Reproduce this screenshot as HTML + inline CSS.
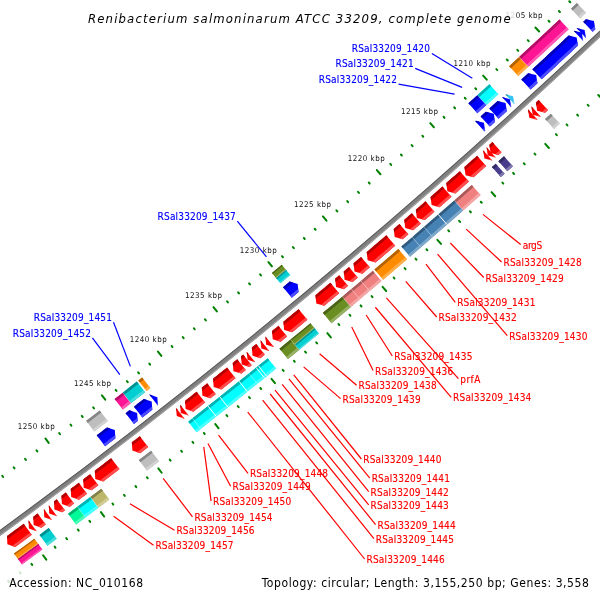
<!DOCTYPE html>
<html><head><meta charset="utf-8"><title>Renibacterium salmoninarum ATCC 33209, complete genome</title>
<style>html,body{margin:0;padding:0;background:#fff;}svg{display:block;will-change:transform;}</style></head>
<body><svg width="600" height="600" viewBox="0 0 600 600">
<rect width="600" height="600" fill="#fff"/>
<path d="M670.69,-37.43 A6182.57,6182.57 0 0 1 -65.4,577.03 L-62.51,581.11 A6187.57,6187.57 0 0 0 674.18,-33.86 Z" fill="#808080"/><path d="M670.69,-37.43 A6182.57,6182.57 0 0 1 -65.4,577.03 L-64.82,577.85 A6183.57,6183.57 0 0 0 671.39,-36.72 Z" fill="#5a5a5a"/><path d="M673.48,-34.57 A6186.57,6186.57 0 0 1 -63.08,580.29 L-62.51,581.11 A6187.57,6187.57 0 0 0 674.18,-33.86 Z" fill="#a6a6a6"/>
<polygon points="583.22,21.83 584.13,20.98 585.03,20.13 585.93,19.28 585.93,19.28 593.95,21.11 595.33,29.24 595.33,29.24 594.43,30.09 593.53,30.94 592.63,31.79" fill="#0000ff"/><polygon points="583.22,21.83 584.13,20.98 585.03,20.13 585.93,19.28 585.93,19.28 589.14,20.01 587.81,21.27 586.91,22.12 586.01,22.97 585.11,23.82" fill="#0000b2"/><polygon points="590.75,29.8 591.65,28.95 592.55,28.1 593.45,27.24 594.78,25.99 595.33,29.24 595.33,29.24 594.43,30.09 593.53,30.94 592.63,31.79" fill="#4c4cff"/>
<polygon points="576.57,28.1 576.57,28.1 576.57,28.1 576.57,28.1 584.6,29.95 585.96,38.07 585.96,38.07 585.96,38.07 585.96,38.07" fill="#0000ff"/><polygon points="576.57,28.1 576.57,28.1 576.57,28.1 576.57,28.1 579.78,28.84 578.45,30.09 578.45,30.09 578.45,30.09" fill="#0000b2"/><polygon points="584.08,36.08 584.08,36.08 584.08,36.08 585.41,34.82 585.96,38.07 585.96,38.07 585.96,38.07 585.96,38.07" fill="#4c4cff"/>
<polygon points="573.66,30.83 573.71,30.79 573.76,30.74 573.76,30.74 581.78,32.59 583.14,40.72 583.14,40.72 583.09,40.77 583.04,40.82" fill="#0000ff"/><polygon points="573.66,30.83 573.71,30.79 573.76,30.74 573.76,30.74 576.97,31.48 575.64,32.73 575.58,32.78 575.53,32.83" fill="#0000b2"/><polygon points="581.16,38.82 581.21,38.77 581.27,38.72 582.6,37.47 583.14,40.72 583.14,40.72 583.09,40.77 583.04,40.82" fill="#4c4cff"/>
<polygon points="532.36,69.28 534.28,67.51 536.19,65.74 538.11,63.97 540.02,62.2 541.94,60.43 543.85,58.65 545.76,56.88 547.67,55.1 549.59,53.33 551.5,51.55 553.41,49.77 555.32,48 557.22,46.22 559.13,44.44 561.04,42.66 562.94,40.88 564.85,39.09 566.75,37.31 568.66,35.53 568.66,35.53 576.68,37.39 578.03,45.52 578.03,45.52 576.12,47.31 574.21,49.1 572.3,50.88 570.39,52.67 568.48,54.45 566.57,56.24 564.65,58.02 562.74,59.8 560.83,61.58 558.91,63.36 557,65.14 555.08,66.92 553.16,68.7 551.25,70.48 549.33,72.25 547.41,74.03 545.49,75.8 543.57,77.58 541.65,79.35" fill="#0000ff"/><polygon points="532.36,69.28 534.28,67.51 536.19,65.74 538.11,63.97 540.02,62.2 541.94,60.43 543.85,58.65 545.76,56.88 547.67,55.1 549.59,53.33 551.5,51.55 553.41,49.77 555.32,48 557.22,46.22 559.13,44.44 561.04,42.66 562.94,40.88 564.85,39.09 566.75,37.31 568.66,35.53 568.66,35.53 571.87,36.27 570.53,37.53 568.63,39.31 566.72,41.09 564.81,42.88 562.91,44.66 561,46.44 559.09,48.22 557.18,50 555.27,51.78 553.36,53.56 551.45,55.33 549.54,57.11 547.63,58.89 545.71,60.66 543.8,62.44 541.88,64.21 539.97,65.98 538.05,67.75 536.13,69.52 534.22,71.29" fill="#0000b2"/><polygon points="539.79,77.34 541.71,75.56 543.63,73.79 545.55,72.02 547.47,70.24 549.38,68.47 551.3,66.69 553.22,64.91 555.13,63.13 557.05,61.36 558.96,59.58 560.87,57.8 562.79,56.01 564.7,54.23 566.61,52.45 568.52,50.67 570.43,48.88 572.34,47.1 574.25,45.31 576.15,43.52 577.49,42.27 578.03,45.52 578.03,45.52 576.12,47.31 574.21,49.1 572.3,50.88 570.39,52.67 568.48,54.45 566.57,56.24 564.65,58.02 562.74,59.8 560.83,61.58 558.91,63.36 557,65.14 555.08,66.92 553.16,68.7 551.25,70.48 549.33,72.25 547.41,74.03 545.49,75.8 543.57,77.58 541.65,79.35" fill="#4c4cff"/>
<polygon points="521.32,79.44 522.69,78.18 524.06,76.92 525.42,75.67 526.79,74.41 528.16,73.15 528.16,73.15 536.16,75.09 537.44,83.23 537.44,83.23 536.07,84.49 534.7,85.75 533.33,87.01 531.96,88.27 530.59,89.53" fill="#0000ff"/><polygon points="521.32,79.44 522.69,78.18 524.06,76.92 525.42,75.67 526.79,74.41 528.16,73.15 528.16,73.15 531.36,73.93 530.01,75.17 528.65,76.43 527.28,77.68 525.91,78.94 524.54,80.2 523.17,81.45" fill="#0000b2"/><polygon points="528.73,87.51 530.1,86.25 531.47,84.99 532.84,83.73 534.21,82.47 535.58,81.21 536.93,79.97 537.44,83.23 537.44,83.23 536.07,84.49 534.7,85.75 533.33,87.01 531.96,88.27 530.59,89.53" fill="#4c4cff"/>
<polygon points="505.19,94.19 505.19,94.19 505.19,94.19 505.19,94.19 513.08,96.26 514.42,104.31 514.42,104.31 514.42,104.31 514.42,104.31" fill="#33c4f2"/><polygon points="505.19,94.19 505.19,94.19 505.19,94.19 505.19,94.19 508.35,95.02 507.04,96.21 507.04,96.21 507.04,96.21" fill="#2489a9"/><polygon points="512.58,102.29 512.58,102.29 512.58,102.29 513.89,101.09 514.42,104.31 514.42,104.31 514.42,104.31 514.42,104.31" fill="#70d6f6"/>
<polygon points="502.03,97.07 502.03,97.07 502.03,97.07 502.03,97.07 509.91,99.15 511.25,107.2 511.25,107.2 511.25,107.2 511.25,107.2" fill="#0000ff"/><polygon points="502.03,97.07 502.03,97.07 502.03,97.07 502.03,97.07 505.18,97.9 503.87,99.1 503.87,99.1 503.87,99.1" fill="#0000b2"/><polygon points="509.4,105.18 509.4,105.18 509.4,105.18 510.72,103.98 511.25,107.2 511.25,107.2 511.25,107.2 511.25,107.2" fill="#4c4cff"/>
<polygon points="489.33,108.59 490.99,107.1 492.64,105.6 494.29,104.1 495.94,102.61 497.59,101.11 497.59,101.11 505.58,103.1 506.8,111.25 506.8,111.25 505.15,112.75 503.49,114.25 501.84,115.75 500.18,117.25 498.53,118.75" fill="#0000ff"/><polygon points="489.33,108.59 490.99,107.1 492.64,105.6 494.29,104.1 495.94,102.61 497.59,101.11 497.59,101.11 500.78,101.91 499.43,103.14 497.78,104.63 496.13,106.13 494.48,107.63 492.82,109.13 491.17,110.62" fill="#0000b2"/><polygon points="496.69,116.72 498.34,115.22 500,113.72 501.65,112.22 503.3,110.72 504.96,109.22 506.31,107.99 506.8,111.25 506.8,111.25 505.15,112.75 503.49,114.25 501.84,115.75 500.18,117.25 498.53,118.75" fill="#4c4cff"/>
<polygon points="480.64,116.44 481.94,115.27 483.24,114.1 484.54,112.93 485.84,111.75 485.84,111.75 493.82,113.77 495.02,121.92 495.02,121.92 493.72,123.09 492.42,124.27 491.12,125.44 489.82,126.62" fill="#0000ff"/><polygon points="480.64,116.44 481.94,115.27 483.24,114.1 484.54,112.93 485.84,111.75 485.84,111.75 489.03,112.56 487.67,113.79 486.37,114.96 485.08,116.13 483.78,117.31 482.48,118.48" fill="#0000b2"/><polygon points="487.98,124.58 489.28,123.41 490.58,122.23 491.88,121.06 493.19,119.88 494.54,118.66 495.02,121.92 495.02,121.92 493.72,123.09 492.42,124.27 491.12,125.44 489.82,126.62" fill="#4c4cff"/>
<polygon points="475.33,121.22 475.65,120.94 475.97,120.65 475.97,120.65 483.95,122.68 485.13,130.83 485.13,130.83 484.82,131.12 484.5,131.41" fill="#0000ff"/><polygon points="475.33,121.22 475.65,120.94 475.97,120.65 475.97,120.65 479.16,121.46 477.8,122.69 477.49,122.97 477.17,123.26" fill="#0000b2"/><polygon points="482.66,129.37 482.98,129.08 483.3,128.8 484.66,127.57 485.13,130.83 485.13,130.83 484.82,131.12 484.5,131.41" fill="#4c4cff"/>
<polygon points="283.06,287.14 284.41,286.02 285.75,284.91 287.09,283.8 288.43,282.69 289.77,281.58 289.77,281.58 297.67,283.92 298.52,292.12 298.52,292.12 297.18,293.23 295.83,294.35 294.49,295.46 293.14,296.58 291.8,297.69" fill="#0000ff"/><polygon points="283.06,287.14 284.41,286.02 285.75,284.91 287.09,283.8 288.43,282.69 289.77,281.58 289.77,281.58 292.93,282.52 291.52,283.68 290.18,284.8 288.84,285.91 287.5,287.02 286.15,288.13 284.81,289.25" fill="#0000b2"/><polygon points="290.05,295.58 291.4,294.47 292.74,293.35 294.09,292.24 295.43,291.12 296.77,290.01 298.18,288.84 298.52,292.12 298.52,292.12 297.18,293.23 295.83,294.35 294.49,295.46 293.14,296.58 291.8,297.69" fill="#4c4cff"/>
<polygon points="149.39,394.66 149.45,394.62 149.51,394.57 149.51,394.57 157.33,397.15 157.95,405.37 157.95,405.37 157.89,405.41 157.83,405.46" fill="#0000ff"/><polygon points="149.39,394.66 149.45,394.62 149.51,394.57 149.51,394.57 152.64,395.61 151.19,396.73 151.14,396.78 151.08,396.82" fill="#0000b2"/><polygon points="156.14,403.3 156.2,403.25 156.26,403.21 157.7,402.08 157.95,405.37 157.95,405.37 157.89,405.41 157.83,405.46" fill="#4c4cff"/>
<polygon points="133.96,406.69 135.61,405.4 137.27,404.12 138.92,402.83 140.57,401.55 142.23,400.26 143.88,398.97 143.88,398.97 151.7,401.56 152.3,409.77 152.3,409.77 150.65,411.06 148.99,412.35 147.33,413.64 145.68,414.93 144.02,416.22 142.36,417.51" fill="#0000ff"/><polygon points="133.96,406.69 135.61,405.4 137.27,404.12 138.92,402.83 140.57,401.55 142.23,400.26 143.88,398.97 143.88,398.97 147.01,400 145.56,401.13 143.91,402.42 142.26,403.71 140.6,404.99 138.95,406.28 137.29,407.57 135.64,408.85" fill="#0000b2"/><polygon points="140.68,415.35 142.34,414.06 144,412.77 145.65,411.48 147.31,410.19 148.96,408.9 150.62,407.61 152.06,406.49 152.3,409.77 152.3,409.77 150.65,411.06 148.99,412.35 147.33,413.64 145.68,414.93 144.02,416.22 142.36,417.51" fill="#4c4cff"/>
<polygon points="125.6,413.17 126.85,412.2 128.09,411.24 129.33,410.28 129.33,410.28 137.14,412.89 137.72,421.11 137.72,421.11 136.48,422.07 135.23,423.04 133.99,424" fill="#0000ff"/><polygon points="125.6,413.17 126.85,412.2 128.09,411.24 129.33,410.28 129.33,410.28 132.46,411.33 131.01,412.45 129.77,413.41 128.52,414.37 127.28,415.33" fill="#0000b2"/><polygon points="132.31,421.83 133.56,420.87 134.8,419.91 136.05,418.94 137.49,417.82 137.72,421.11 137.72,421.11 136.48,422.07 135.23,423.04 133.99,424" fill="#4c4cff"/>
<polygon points="96.73,435.37 98.45,434.06 100.17,432.74 101.89,431.42 103.61,430.11 105.33,428.79 107.05,427.47 107.05,427.47 114.85,430.11 115.39,438.34 115.39,438.34 113.67,439.66 111.95,440.98 110.23,442.3 108.5,443.62 106.78,444.94 105.05,446.26" fill="#0000ff"/><polygon points="96.73,435.37 98.45,434.06 100.17,432.74 101.89,431.42 103.61,430.11 105.33,428.79 107.05,427.47 107.05,427.47 110.17,428.53 108.72,429.64 107,430.96 105.28,432.28 103.56,433.6 101.84,434.92 100.12,436.23 98.4,437.55" fill="#0000b2"/><polygon points="103.39,444.08 105.11,442.76 106.84,441.44 108.56,440.12 110.28,438.8 112,437.48 113.73,436.16 115.18,435.05 115.39,438.34 115.39,438.34 113.67,439.66 111.95,440.98 110.23,442.3 108.5,443.62 106.78,444.94 105.05,446.26" fill="#4c4cff"/>
<polygon points="538.67,100.03 537.75,100.87 536.83,101.71 535.92,102.55 535.92,102.55 537.16,110.7 545.17,112.65 545.17,112.65 546.09,111.81 547.01,110.97 547.93,110.12" fill="#ff0000"/><polygon points="538.67,100.03 537.75,100.87 536.83,101.71 535.92,102.55 535.92,102.55 536.41,105.81 537.77,104.57 538.68,103.73 539.6,102.89 540.52,102.05" fill="#b20000"/><polygon points="546.08,108.1 545.16,108.95 544.24,109.79 543.32,110.63 541.97,111.87 545.17,112.65 545.17,112.65 546.09,111.81 547.01,110.97 547.93,110.12" fill="#ff4c4c"/>
<polygon points="531.58,106.52 531.53,106.57 531.47,106.62 531.47,106.62 532.7,114.77 540.72,116.73 540.72,116.73 540.77,116.68 540.82,116.63" fill="#ff0000"/><polygon points="531.58,106.52 531.53,106.57 531.47,106.62 531.47,106.62 531.97,109.88 533.32,108.64 533.37,108.59 533.43,108.54" fill="#b20000"/><polygon points="538.98,114.61 538.92,114.66 538.87,114.71 537.51,115.95 540.72,116.73 540.72,116.73 540.77,116.68 540.82,116.63" fill="#ff4c4c"/>
<polygon points="528.3,109.52 528.19,109.62 528.08,109.72 528.08,109.72 529.31,117.87 537.32,119.83 537.32,119.83 537.43,119.73 537.53,119.64" fill="#ff0000"/><polygon points="528.3,109.52 528.19,109.62 528.08,109.72 528.08,109.72 528.57,112.98 529.93,111.74 530.04,111.64 530.14,111.55" fill="#b20000"/><polygon points="535.69,117.61 535.58,117.71 535.47,117.81 534.12,119.05 537.32,119.83 537.32,119.83 537.43,119.73 537.53,119.64" fill="#ff4c4c"/>
<polygon points="492.36,142.09 491.37,142.98 490.37,143.88 489.38,144.77 489.38,144.77 490.53,152.94 498.53,154.96 498.53,154.96 499.53,154.07 500.53,153.17 501.52,152.27" fill="#ff0000"/><polygon points="492.36,142.09 491.37,142.98 490.37,143.88 489.38,144.77 489.38,144.77 489.84,148.04 491.21,146.81 492.2,145.91 493.2,145.02 494.2,144.12" fill="#b20000"/><polygon points="499.69,150.24 498.69,151.13 497.7,152.03 496.7,152.93 495.33,154.15 498.53,154.96 498.53,154.96 499.53,154.07 500.53,153.17 501.52,152.27" fill="#ff4c4c"/>
<polygon points="486.6,147.26 486.6,147.26 486.6,147.26 486.6,147.26 487.75,155.43 495.75,157.46 495.75,157.46 495.75,157.46 495.75,157.46" fill="#ff0000"/><polygon points="486.6,147.26 486.6,147.26 486.6,147.26 486.6,147.26 487.06,150.53 488.43,149.3 488.43,149.3 488.43,149.3" fill="#b20000"/><polygon points="493.92,155.42 493.92,155.42 493.92,155.42 492.55,156.65 495.75,157.46 495.75,157.46 495.75,157.46 495.75,157.46" fill="#ff4c4c"/>
<polygon points="483.18,150.33 483.18,150.33 483.18,150.33 483.18,150.33 484.43,158.4 492.32,160.53 492.32,160.53 492.32,160.53 492.32,160.53" fill="#ff0000"/><polygon points="483.18,150.33 483.18,150.33 483.18,150.33 483.18,150.33 483.68,153.55 485.01,152.37 485.01,152.37 485.01,152.37" fill="#b20000"/><polygon points="490.49,158.49 490.49,158.49 490.49,158.49 489.16,159.68 492.32,160.53 492.32,160.53 492.32,160.53 492.32,160.53" fill="#ff4c4c"/>
<polygon points="477.09,155.78 475.28,157.39 473.48,159 471.67,160.61 469.87,162.22 468.06,163.82 466.25,165.43 464.44,167.04 464.44,167.04 465.56,175.21 473.54,177.28 473.54,177.28 475.35,175.67 477.16,174.06 478.98,172.45 480.79,170.84 482.59,169.22 484.4,167.61 486.21,166" fill="#ff0000"/><polygon points="477.09,155.78 475.28,157.39 473.48,159 471.67,160.61 469.87,162.22 468.06,163.82 466.25,165.43 464.44,167.04 464.44,167.04 464.89,170.31 466.26,169.09 468.07,167.48 469.88,165.87 471.69,164.26 473.49,162.65 475.3,161.04 477.11,159.43 478.91,157.82" fill="#b20000"/><polygon points="484.39,163.95 482.58,165.56 480.77,167.18 478.96,168.79 477.15,170.4 475.34,172.01 473.53,173.62 471.72,175.23 470.35,176.45 473.54,177.28 473.54,177.28 475.35,175.67 477.16,174.06 478.98,172.45 480.79,170.84 482.59,169.22 484.4,167.61 486.21,166" fill="#ff4c4c"/>
<polygon points="459.83,171.13 458.14,172.63 456.45,174.13 454.75,175.63 453.06,177.12 451.37,178.62 449.67,180.11 447.98,181.61 446.28,183.1 446.28,183.1 447.36,191.28 455.34,193.38 455.34,193.38 457.04,191.88 458.74,190.39 460.44,188.89 462.13,187.39 463.83,185.89 465.53,184.39 467.22,182.89 468.92,181.38" fill="#ff0000"/><polygon points="459.83,171.13 458.14,172.63 456.45,174.13 454.75,175.63 453.06,177.12 451.37,178.62 449.67,180.11 447.98,181.61 446.28,183.1 446.28,183.1 446.72,186.37 448.1,185.16 449.79,183.66 451.49,182.17 453.18,180.67 454.88,179.18 456.57,177.68 458.26,176.18 459.95,174.68 461.65,173.18" fill="#b20000"/><polygon points="467.1,179.33 465.41,180.83 463.71,182.34 462.02,183.84 460.32,185.33 458.62,186.83 456.93,188.33 455.23,189.83 453.53,191.33 452.15,192.54 455.34,193.38 455.34,193.38 457.04,191.88 458.74,190.39 460.44,188.89 462.13,187.39 463.83,185.89 465.53,184.39 467.22,182.89 468.92,181.38" fill="#ff4c4c"/>
<polygon points="442.41,186.52 440.72,188.01 439.02,189.49 437.33,190.98 435.63,192.47 433.94,193.95 432.24,195.44 430.55,196.93 430.55,196.93 431.6,205.11 439.57,207.23 439.57,207.23 441.27,205.75 442.97,204.26 444.67,202.77 446.37,201.28 448.06,199.79 449.76,198.29 451.46,196.8" fill="#ff0000"/><polygon points="442.41,186.52 440.72,188.01 439.02,189.49 437.33,190.98 435.63,192.47 433.94,193.95 432.24,195.44 430.55,196.93 430.55,196.93 430.97,200.2 432.35,198.99 434.05,197.5 435.74,196.02 437.44,194.53 439.14,193.04 440.83,191.55 442.52,190.06 444.22,188.57" fill="#b20000"/><polygon points="449.65,194.75 447.95,196.24 446.26,197.73 444.56,199.22 442.86,200.71 441.16,202.2 439.46,203.68 437.77,205.17 436.38,206.38 439.57,207.23 439.57,207.23 441.27,205.75 442.97,204.26 444.67,202.77 446.37,201.28 448.06,199.79 449.76,198.29 451.46,196.8" fill="#ff4c4c"/>
<polygon points="425.47,201.36 423.87,202.76 422.26,204.16 420.66,205.56 419.05,206.96 417.45,208.36 415.84,209.75 415.84,209.75 416.87,217.94 424.84,220.09 424.84,220.09 426.44,218.69 428.05,217.29 429.66,215.89 431.27,214.49 432.88,213.09 434.48,211.68" fill="#ff0000"/><polygon points="425.47,201.36 423.87,202.76 422.26,204.16 420.66,205.56 419.05,206.96 417.45,208.36 415.84,209.75 415.84,209.75 416.26,213.03 417.64,211.82 419.25,210.42 420.85,209.03 422.46,207.63 424.06,206.23 425.67,204.83 427.27,203.43" fill="#b20000"/><polygon points="432.68,209.62 431.07,211.02 429.47,212.42 427.86,213.82 426.25,215.22 424.65,216.62 423.04,218.02 421.65,219.23 424.84,220.09 424.84,220.09 426.44,218.69 428.05,217.29 429.66,215.89 431.27,214.49 432.88,213.09 434.48,211.68" fill="#ff4c4c"/>
<polygon points="411.84,213.24 410.32,214.55 408.8,215.87 407.29,217.18 405.77,218.5 404.25,219.81 404.25,219.81 405.25,228 413.21,230.17 413.21,230.17 414.74,228.85 416.26,227.54 417.78,226.22 419.3,224.9 420.82,223.58" fill="#ff0000"/><polygon points="411.84,213.24 410.32,214.55 408.8,215.87 407.29,217.18 405.77,218.5 404.25,219.81 404.25,219.81 404.65,223.09 406.04,221.88 407.56,220.57 409.08,219.25 410.6,217.94 412.12,216.62 413.63,215.3" fill="#b20000"/><polygon points="419.02,221.51 417.5,222.83 415.98,224.15 414.46,225.47 412.94,226.78 411.42,228.1 410.03,229.3 413.21,230.17 413.21,230.17 414.74,228.85 416.26,227.54 417.78,226.22 419.3,224.9 420.82,223.58" fill="#ff4c4c"/>
<polygon points="399.47,223.94 398.03,225.18 396.6,226.43 395.16,227.67 393.72,228.91 393.72,228.91 394.7,237.1 402.66,239.29 402.66,239.29 404.1,238.04 405.54,236.8 406.99,235.55 408.43,234.31" fill="#ff0000"/><polygon points="399.47,223.94 398.03,225.18 396.6,226.43 395.16,227.67 393.72,228.91 393.72,228.91 394.11,232.18 395.5,230.98 396.94,229.74 398.38,228.5 399.82,227.26 401.26,226.01" fill="#b20000"/><polygon points="406.64,232.24 405.2,233.48 403.75,234.72 402.31,235.97 400.87,237.21 399.48,238.41 402.66,239.29 402.66,239.29 404.1,238.04 405.54,236.8 406.99,235.55 408.43,234.31" fill="#ff4c4c"/>
<polygon points="386.32,235.27 384.36,236.95 382.4,238.63 380.44,240.31 378.48,241.99 376.51,243.67 374.55,245.35 372.59,247.03 370.62,248.7 368.66,250.38 366.69,252.05 366.69,252.05 367.63,260.25 375.57,262.48 375.57,262.48 377.54,260.8 379.51,259.13 381.48,257.45 383.45,255.76 385.42,254.08 387.38,252.4 389.35,250.72 391.32,249.03 393.28,247.35 395.24,245.66" fill="#ff0000"/><polygon points="386.32,235.27 384.36,236.95 382.4,238.63 380.44,240.31 378.48,241.99 376.51,243.67 374.55,245.35 372.59,247.03 370.62,248.7 368.66,250.38 366.69,252.05 366.69,252.05 367.07,255.33 368.47,254.14 370.44,252.46 372.4,250.79 374.37,249.11 376.33,247.43 378.3,245.75 380.26,244.07 382.22,242.39 384.18,240.71 386.14,239.03 388.1,237.35" fill="#b20000"/><polygon points="393.46,243.58 391.5,245.27 389.53,246.95 387.57,248.64 385.6,250.32 383.64,252 381.67,253.68 379.7,255.36 377.74,257.04 375.77,258.72 373.8,260.4 372.4,261.59 375.57,262.48 375.57,262.48 377.54,260.8 379.51,259.13 381.48,257.45 383.45,255.76 385.42,254.08 387.38,252.4 389.35,250.72 391.32,249.03 393.28,247.35 395.24,245.66" fill="#ff4c4c"/>
<polygon points="361.01,256.89 359.52,258.15 358.03,259.41 356.55,260.67 355.06,261.93 353.57,263.2 353.57,263.2 354.49,271.39 362.42,273.65 362.42,273.65 363.91,272.39 365.41,271.12 366.9,269.86 368.39,268.59 369.88,267.33" fill="#ff0000"/><polygon points="361.01,256.89 359.52,258.15 358.03,259.41 356.55,260.67 355.06,261.93 353.57,263.2 353.57,263.2 353.94,266.47 355.34,265.29 356.83,264.02 358.32,262.76 359.81,261.5 361.3,260.24 362.78,258.97" fill="#b20000"/><polygon points="368.1,265.24 366.61,266.5 365.12,267.77 363.63,269.03 362.14,270.3 360.65,271.56 359.25,272.75 362.42,273.65 362.42,273.65 363.91,272.39 365.41,271.12 366.9,269.86 368.39,268.59 369.88,267.33" fill="#ff4c4c"/>
<polygon points="348.97,267.09 347.65,268.2 346.34,269.31 345.02,270.42 343.71,271.53 343.71,271.53 344.61,279.73 352.54,282 352.54,282 353.86,280.89 355.17,279.78 356.49,278.66 357.81,277.55" fill="#ff0000"/><polygon points="348.97,267.09 347.65,268.2 346.34,269.31 345.02,270.42 343.71,271.53 343.71,271.53 344.07,274.81 345.47,273.62 346.79,272.51 348.11,271.4 349.42,270.29 350.74,269.18" fill="#b20000"/><polygon points="356.04,275.46 354.73,276.57 353.41,277.68 352.09,278.8 350.77,279.91 349.36,281.09 352.54,282 352.54,282 353.86,280.89 355.17,279.78 356.49,278.66 357.81,277.55" fill="#ff4c4c"/>
<polygon points="339.21,275.32 337.85,276.46 336.5,277.6 335.14,278.73 335.14,278.73 336.03,286.93 343.96,289.22 343.96,289.22 345.31,288.08 346.67,286.94 348.03,285.8" fill="#ff0000"/><polygon points="339.21,275.32 337.85,276.46 336.5,277.6 335.14,278.73 335.14,278.73 335.5,282.01 336.91,280.83 338.26,279.69 339.62,278.55 340.97,277.41" fill="#b20000"/><polygon points="346.26,283.7 344.91,284.85 343.55,285.99 342.19,287.13 340.79,288.31 343.96,289.22 343.96,289.22 345.31,288.08 346.67,286.94 348.03,285.8" fill="#ff4c4c"/>
<polygon points="330.42,282.7 328.55,284.27 326.68,285.83 324.81,287.4 322.94,288.96 321.07,290.53 319.19,292.09 317.32,293.65 315.45,295.21 315.45,295.21 316.3,303.42 324.22,305.74 324.22,305.74 326.09,304.17 327.97,302.61 329.85,301.04 331.72,299.47 333.6,297.91 335.47,296.34 337.35,294.77 339.22,293.2" fill="#ff0000"/><polygon points="330.42,282.7 328.55,284.27 326.68,285.83 324.81,287.4 322.94,288.96 321.07,290.53 319.19,292.09 317.32,293.65 315.45,295.21 315.45,295.21 315.79,298.49 317.2,297.32 319.08,295.75 320.95,294.19 322.82,292.63 324.69,291.06 326.57,289.5 328.44,287.93 330.31,286.37 332.18,284.8" fill="#b20000"/><polygon points="337.46,291.1 335.59,292.67 333.71,294.24 331.84,295.8 329.97,297.37 328.09,298.94 326.21,300.5 324.34,302.07 322.46,303.63 321.05,304.81 324.22,305.74 324.22,305.74 326.09,304.17 327.97,302.61 329.85,301.04 331.72,299.47 333.6,297.91 335.47,296.34 337.35,294.77 339.22,293.2" fill="#ff4c4c"/>
<polygon points="298.67,309.14 296.76,310.72 294.85,312.29 292.94,313.87 291.03,315.44 289.12,317.02 287.21,318.59 285.3,320.16 283.39,321.73 283.39,321.73 284.19,329.94 292.09,332.32 292.09,332.32 294,330.74 295.92,329.17 297.83,327.59 299.75,326.01 301.66,324.44 303.57,322.86 305.49,321.28 307.4,319.7" fill="#ff0000"/><polygon points="298.67,309.14 296.76,310.72 294.85,312.29 292.94,313.87 291.03,315.44 289.12,317.02 287.21,318.59 285.3,320.16 283.39,321.73 283.39,321.73 283.71,325.02 285.13,323.85 287.04,322.28 288.95,320.7 290.87,319.13 292.78,317.56 294.69,315.98 296.6,314.41 298.51,312.83 300.41,311.25" fill="#b20000"/><polygon points="305.65,317.58 303.74,319.16 301.83,320.74 299.92,322.32 298.01,323.9 296.09,325.48 294.18,327.05 292.26,328.63 290.35,330.2 288.93,331.37 292.09,332.32 292.09,332.32 294,330.74 295.92,329.17 297.83,327.59 299.75,326.01 301.66,324.44 303.57,322.86 305.49,321.28 307.4,319.7" fill="#ff4c4c"/>
<polygon points="278.4,325.83 276.79,327.15 275.18,328.47 273.57,329.78 271.96,331.1 271.96,331.1 272.74,339.31 280.63,341.71 280.63,341.71 282.25,340.39 283.86,339.07 285.47,337.74 287.09,336.42" fill="#ff0000"/><polygon points="278.4,325.83 276.79,327.15 275.18,328.47 273.57,329.78 271.96,331.1 271.96,331.1 272.27,334.38 273.7,333.22 275.31,331.9 276.92,330.59 278.53,329.27 280.14,327.95" fill="#b20000"/><polygon points="285.35,334.3 283.74,335.63 282.13,336.95 280.51,338.27 278.9,339.59 277.48,340.75 280.63,341.71 280.63,341.71 282.25,340.39 283.86,339.07 285.47,337.74 287.09,336.42" fill="#ff4c4c"/>
<polygon points="265.41,336.45 265.41,336.45 265.41,336.45 265.41,336.45 266.17,344.67 274.06,347.07 274.06,347.07 274.06,347.07 274.06,347.07" fill="#ff0000"/><polygon points="265.41,336.45 265.41,336.45 265.41,336.45 265.41,336.45 265.71,339.74 267.14,338.58 267.14,338.58 267.14,338.58" fill="#b20000"/><polygon points="272.33,344.95 272.33,344.95 272.33,344.95 270.91,346.11 274.06,347.07 274.06,347.07 274.06,347.07 274.06,347.07" fill="#ff4c4c"/>
<polygon points="260.62,340.35 260.62,340.35 260.62,340.35 260.62,340.35 261.38,348.56 269.27,350.98 269.27,350.98 269.27,350.98 269.27,350.98" fill="#ff0000"/><polygon points="260.62,340.35 260.62,340.35 260.62,340.35 260.62,340.35 260.93,343.64 262.35,342.48 262.35,342.48 262.35,342.48" fill="#b20000"/><polygon points="267.54,348.85 267.54,348.85 267.54,348.85 266.11,350.01 269.27,350.98 269.27,350.98 269.27,350.98 269.27,350.98" fill="#ff4c4c"/>
<polygon points="256.17,343.97 254.72,345.15 253.27,346.32 251.82,347.5 251.82,347.5 252.57,355.71 260.45,358.14 260.45,358.14 261.9,356.96 263.36,355.78 264.81,354.6" fill="#ff0000"/><polygon points="256.17,343.97 254.72,345.15 253.27,346.32 251.82,347.5 251.82,347.5 252.12,350.78 253.55,349.62 255,348.45 256.45,347.27 257.9,346.1" fill="#b20000"/><polygon points="263.08,352.48 261.63,353.66 260.18,354.83 258.73,356.01 257.3,357.17 260.45,358.14 260.45,358.14 261.9,356.96 263.36,355.78 264.81,354.6" fill="#ff4c4c"/>
<polygon points="246.7,351.65 246.7,351.65 246.7,351.65 246.7,351.65 247.54,359.77 255.31,362.3 255.31,362.3 255.31,362.3 255.31,362.3" fill="#ff0000"/><polygon points="246.7,351.65 246.7,351.65 246.7,351.65 246.7,351.65 247.04,354.9 248.42,353.78 248.42,353.78 248.42,353.78" fill="#b20000"/><polygon points="253.59,360.17 253.59,360.17 253.59,360.17 252.2,361.29 255.31,362.3 255.31,362.3 255.31,362.3 255.31,362.3" fill="#ff4c4c"/>
<polygon points="243.13,354.54 242.07,355.39 241,356.25 241,356.25 241.73,364.46 249.61,366.91 249.61,366.91 250.67,366.05 251.73,365.19" fill="#ff0000"/><polygon points="243.13,354.54 242.07,355.39 241,356.25 241,356.25 241.3,359.53 242.73,358.38 243.79,357.52 244.85,356.67" fill="#b20000"/><polygon points="250.01,363.06 248.95,363.92 247.89,364.78 246.46,365.93 249.61,366.91 249.61,366.91 250.67,366.05 251.73,365.19" fill="#ff4c4c"/>
<polygon points="237.21,359.31 236.09,360.21 234.97,361.11 233.86,362.01 232.74,362.91 232.74,362.91 233.45,371.13 241.32,373.58 241.32,373.58 242.44,372.68 243.56,371.78 244.68,370.88 245.8,369.98" fill="#ff0000"/><polygon points="237.21,359.31 236.09,360.21 234.97,361.11 233.86,362.01 232.74,362.91 232.74,362.91 233.02,366.19 234.45,365.04 235.57,364.14 236.69,363.24 237.81,362.34 238.93,361.44" fill="#b20000"/><polygon points="244.08,367.84 242.96,368.75 241.85,369.65 240.73,370.55 239.61,371.45 238.17,372.6 241.32,373.58 241.32,373.58 242.44,372.68 243.56,371.78 244.68,370.88 245.8,369.98" fill="#ff4c4c"/>
<polygon points="227.03,367.49 225.28,368.89 223.53,370.29 221.78,371.7 220.03,373.1 218.28,374.5 216.53,375.9 214.78,377.29 213.03,378.69 213.03,378.69 213.7,386.91 221.57,389.4 221.57,389.4 223.33,388 225.08,386.6 226.84,385.2 228.59,383.79 230.35,382.39 232.1,380.99 233.85,379.58 235.61,378.18" fill="#ff0000"/><polygon points="227.03,367.49 225.28,368.89 223.53,370.29 221.78,371.7 220.03,373.1 218.28,374.5 216.53,375.9 214.78,377.29 213.03,378.69 213.03,378.69 213.3,381.98 214.74,380.83 216.49,379.44 218.24,378.04 219.99,376.64 221.75,375.24 223.5,373.83 225.25,372.43 227,371.03 228.75,369.63" fill="#b20000"/><polygon points="233.89,376.04 232.14,377.44 230.39,378.85 228.63,380.25 226.88,381.65 225.13,383.06 223.37,384.46 221.62,385.86 219.86,387.26 218.42,388.41 221.57,389.4 221.57,389.4 223.33,388 225.08,386.6 226.84,385.2 228.59,383.79 230.35,382.39 232.1,380.99 233.85,379.58 235.61,378.18" fill="#ff4c4c"/>
<polygon points="207.19,383.34 205.85,384.41 204.5,385.48 203.15,386.55 201.8,387.62 201.8,387.62 202.46,395.85 210.32,398.35 210.32,398.35 211.67,397.28 213.02,396.21 214.37,395.13 215.72,394.06" fill="#ff0000"/><polygon points="207.19,383.34 205.85,384.41 204.5,385.48 203.15,386.55 201.8,387.62 201.8,387.62 202.07,390.91 203.5,389.77 204.85,388.7 206.2,387.63 207.55,386.56 208.9,385.48" fill="#b20000"/><polygon points="214.02,391.92 212.67,392.99 211.32,394.06 209.97,395.14 208.61,396.21 207.17,397.35 210.32,398.35 210.32,398.35 211.67,397.28 213.02,396.21 214.37,395.13 215.72,394.06" fill="#ff4c4c"/>
<polygon points="196.63,391.72 194.97,393.03 193.32,394.34 191.66,395.65 190.01,396.96 188.35,398.27 186.69,399.58 185.03,400.88 185.03,400.88 185.66,409.11 193.51,411.64 193.51,411.64 195.18,410.33 196.84,409.02 198.5,407.71 200.16,406.4 201.82,405.09 203.48,403.78 205.14,402.46" fill="#ff0000"/><polygon points="196.63,391.72 194.97,393.03 193.32,394.34 191.66,395.65 190.01,396.96 188.35,398.27 186.69,399.58 185.03,400.88 185.03,400.88 185.29,404.17 186.73,403.04 188.39,401.73 190.05,400.42 191.7,399.11 193.36,397.8 195.02,396.49 196.68,395.18 198.33,393.87" fill="#b20000"/><polygon points="203.43,400.32 201.78,401.63 200.12,402.94 198.46,404.25 196.8,405.56 195.14,406.87 193.48,408.18 191.82,409.49 190.37,410.63 193.51,411.64 193.51,411.64 195.18,410.33 196.84,409.02 198.5,407.71 200.16,406.4 201.82,405.09 203.48,403.78 205.14,402.46" fill="#ff4c4c"/>
<polygon points="180.19,404.7 180.19,404.7 180.19,404.7 180.19,404.7 180.81,412.92 188.66,415.47 188.66,415.47 188.66,415.47 188.66,415.47" fill="#ff0000"/><polygon points="180.19,404.7 180.19,404.7 180.19,404.7 180.19,404.7 180.44,407.99 181.88,406.85 181.88,406.85 181.88,406.85" fill="#b20000"/><polygon points="186.96,413.32 186.96,413.32 186.96,413.32 185.52,414.45 188.66,415.47 188.66,415.47 188.66,415.47 188.66,415.47" fill="#ff4c4c"/>
<polygon points="176.13,407.89 176.13,407.89 176.13,407.89 176.13,407.89 176.74,416.12 184.59,418.67 184.59,418.67 184.59,418.67 184.59,418.67" fill="#ff0000"/><polygon points="176.13,407.89 176.13,407.89 176.13,407.89 176.13,407.89 176.37,411.18 177.82,410.05 177.82,410.05 177.82,410.05" fill="#b20000"/><polygon points="182.89,416.51 182.89,416.51 182.89,416.51 181.45,417.65 184.59,418.67 184.59,418.67 184.59,418.67 184.59,418.67" fill="#ff4c4c"/>
<polygon points="139.8,436.2 138.21,437.42 136.62,438.65 135.03,439.88 133.44,441.11 131.85,442.33 131.85,442.33 132.39,450.56 140.21,453.18 140.21,453.18 141.8,451.95 143.4,450.73 144.99,449.5 146.59,448.27 148.18,447.03" fill="#ff0000"/><polygon points="139.8,436.2 138.21,437.42 136.62,438.65 135.03,439.88 133.44,441.11 131.85,442.33 131.85,442.33 132.07,445.62 133.52,444.5 135.11,443.28 136.7,442.05 138.29,440.82 139.88,439.59 141.47,438.36" fill="#b20000"/><polygon points="146.5,444.87 144.91,446.1 143.32,447.33 141.72,448.56 140.13,449.79 138.54,451.01 137.08,452.14 140.21,453.18 140.21,453.18 141.8,451.95 143.4,450.73 144.99,449.5 146.59,448.27 148.18,447.03" fill="#ff4c4c"/>
<polygon points="111.13,458.23 109.32,459.61 107.51,460.99 105.7,462.37 103.88,463.76 102.07,465.14 100.25,466.52 98.44,467.9 96.62,469.27 94.81,470.65 94.81,470.65 95.29,478.89 103.09,481.57 103.09,481.57 104.91,480.19 106.73,478.8 108.55,477.42 110.36,476.04 112.18,474.66 114,473.27 115.82,471.89 117.63,470.5 119.45,469.11" fill="#ff0000"/><polygon points="111.13,458.23 109.32,459.61 107.51,460.99 105.7,462.37 103.88,463.76 102.07,465.14 100.25,466.52 98.44,467.9 96.62,469.27 94.81,470.65 94.81,470.65 95,473.95 96.46,472.84 98.28,471.46 100.1,470.08 101.91,468.7 103.73,467.32 105.54,465.94 107.36,464.55 109.17,463.17 110.98,461.79 112.8,460.4" fill="#b20000"/><polygon points="117.79,466.94 115.97,468.32 114.15,469.71 112.34,471.09 110.52,472.48 108.71,473.86 106.89,475.24 105.07,476.62 103.25,478 101.43,479.38 99.97,480.5 103.09,481.57 103.09,481.57 104.91,480.19 106.73,478.8 108.55,477.42 110.36,476.04 112.18,474.66 114,473.27 115.82,471.89 117.63,470.5 119.45,469.11" fill="#ff4c4c"/>
<polygon points="90.12,474.21 88.75,475.24 87.37,476.28 86,477.32 84.63,478.36 83.25,479.4 83.25,479.4 83.71,487.63 91.51,490.33 91.51,490.33 92.89,489.29 94.26,488.25 95.64,487.21 97.01,486.17 98.39,485.13" fill="#ff0000"/><polygon points="90.12,474.21 88.75,475.24 87.37,476.28 86,477.32 84.63,478.36 83.25,479.4 83.25,479.4 83.44,482.69 84.9,481.58 86.28,480.55 87.65,479.51 89.03,478.47 90.4,477.43 91.77,476.39" fill="#b20000"/><polygon points="96.74,482.94 95.36,483.98 93.99,485.03 92.61,486.07 91.23,487.1 89.86,488.14 88.39,489.25 91.51,490.33 91.51,490.33 92.89,489.29 94.26,488.25 95.64,487.21 97.01,486.17 98.39,485.13" fill="#ff4c4c"/>
<polygon points="78.79,482.77 77.18,483.98 75.58,485.18 73.97,486.39 72.37,487.6 70.76,488.8 70.76,488.8 71.2,497.04 78.99,499.76 78.99,499.76 80.6,498.55 82.21,497.34 83.82,496.13 85.42,494.92 87.03,493.71" fill="#ff0000"/><polygon points="78.79,482.77 77.18,483.98 75.58,485.18 73.97,486.39 72.37,487.6 70.76,488.8 70.76,488.8 70.94,492.1 72.41,490.99 74.01,489.79 75.62,488.58 77.23,487.37 78.83,486.16 80.44,484.95" fill="#b20000"/><polygon points="85.38,491.52 83.78,492.73 82.17,493.94 80.56,495.15 78.95,496.36 77.34,497.57 75.87,498.67 78.99,499.76 78.99,499.76 80.6,498.55 82.21,497.34 83.82,496.13 85.42,494.92 87.03,493.71" fill="#ff4c4c"/>
<polygon points="65.83,492.51 64.37,493.6 62.92,494.68 61.46,495.77 61.46,495.77 61.88,504.01 69.67,506.74 69.67,506.74 71.13,505.65 72.59,504.56 74.04,503.47" fill="#ff0000"/><polygon points="65.83,492.51 64.37,493.6 62.92,494.68 61.46,495.77 61.46,495.77 61.63,499.07 63.1,497.97 64.56,496.88 66.01,495.79 67.47,494.7" fill="#b20000"/><polygon points="72.4,501.28 70.94,502.37 69.49,503.46 68.03,504.55 66.55,505.65 69.67,506.74 69.67,506.74 71.13,505.65 72.59,504.56 74.04,503.47" fill="#ff4c4c"/>
<polygon points="56.75,499.29 55.83,499.98 54.91,500.67 53.99,501.35 53.99,501.35 54.4,509.59 62.18,512.34 62.18,512.34 63.1,511.65 64.03,510.96 64.95,510.27" fill="#ff0000"/><polygon points="56.75,499.29 55.83,499.98 54.91,500.67 53.99,501.35 53.99,501.35 54.16,504.65 55.63,503.55 56.55,502.86 57.47,502.18 58.39,501.49" fill="#b20000"/><polygon points="63.31,508.08 62.39,508.76 61.46,509.45 60.54,510.14 59.07,511.24 62.18,512.34 62.18,512.34 63.1,511.65 64.03,510.96 64.95,510.27" fill="#ff4c4c"/>
<polygon points="48.81,505.21 48.81,505.21 48.81,505.21 48.81,505.21 49.21,513.45 56.99,516.2 56.99,516.2 56.99,516.2 56.99,516.2" fill="#ff0000"/><polygon points="48.81,505.21 48.81,505.21 48.81,505.21 48.81,505.21 48.98,508.51 50.45,507.41 50.45,507.41 50.45,507.41" fill="#b20000"/><polygon points="55.36,514 55.36,514 55.36,514 53.88,515.1 56.99,516.2 56.99,516.2 56.99,516.2 56.99,516.2" fill="#ff4c4c"/>
<polygon points="43.86,508.89 43.86,508.89 43.86,508.89 43.86,508.89 44.26,517.13 52.03,519.89 52.03,519.89 52.03,519.89 52.03,519.89" fill="#ff0000"/><polygon points="43.86,508.89 43.86,508.89 43.86,508.89 43.86,508.89 44.02,512.19 45.5,511.09 45.5,511.09 45.5,511.09" fill="#b20000"/><polygon points="50.4,517.69 50.4,517.69 50.4,517.69 48.92,518.79 52.03,519.89 52.03,519.89 52.03,519.89 52.03,519.89" fill="#ff4c4c"/>
<polygon points="37.64,513.51 36.18,514.59 34.72,515.67 33.26,516.75 33.26,516.75 33.63,524.99 41.4,527.77 41.4,527.77 42.87,526.68 44.33,525.6 45.79,524.52" fill="#ff0000"/><polygon points="37.64,513.51 36.18,514.59 34.72,515.67 33.26,516.75 33.26,516.75 33.41,520.04 34.89,518.95 36.35,517.87 37.81,516.79 39.27,515.71" fill="#b20000"/><polygon points="44.16,522.31 42.7,523.4 41.24,524.48 39.77,525.56 38.29,526.66 41.4,527.77 41.4,527.77 42.87,526.68 44.33,525.6 45.79,524.52" fill="#ff4c4c"/>
<polygon points="28.53,520.24 28.53,520.24 28.53,520.24 28.53,520.24 28.89,528.48 36.66,531.27 36.66,531.27 36.66,531.27 36.66,531.27" fill="#ff0000"/><polygon points="28.53,520.24 28.53,520.24 28.53,520.24 28.53,520.24 28.67,523.54 30.15,522.45 30.15,522.45 30.15,522.45" fill="#b20000"/><polygon points="35.03,529.06 35.03,529.06 35.03,529.06 33.55,530.15 36.66,531.27 36.66,531.27 36.66,531.27 36.66,531.27" fill="#ff4c4c"/>
<polygon points="23.68,523.82 21.83,525.18 19.98,526.54 18.13,527.9 16.28,529.26 14.43,530.61 12.58,531.97 10.72,533.33 8.87,534.68 7.02,536.04 7.02,536.04 7.35,544.28 15.1,547.1 15.1,547.1 16.96,545.74 18.82,544.38 20.67,543.02 22.53,541.66 24.38,540.3 26.24,538.94 28.09,537.58 29.95,536.21 31.8,534.85" fill="#ff0000"/><polygon points="23.68,523.82 21.83,525.18 19.98,526.54 18.13,527.9 16.28,529.26 14.43,530.61 12.58,531.97 10.72,533.33 8.87,534.68 7.02,536.04 7.02,536.04 7.15,539.34 8.64,538.25 10.49,536.9 12.34,535.54 14.2,534.18 16.05,532.82 17.9,531.47 19.75,530.11 21.6,528.75 23.45,527.39 25.3,526.02" fill="#b20000"/><polygon points="30.17,532.64 28.32,534.01 26.47,535.37 24.62,536.73 22.76,538.09 20.91,539.45 19.05,540.81 17.2,542.17 15.34,543.53 13.49,544.89 12,545.97 15.1,547.1 15.1,547.1 16.96,545.74 18.82,544.38 20.67,543.02 22.53,541.66 24.38,540.3 26.24,538.94 28.09,537.58 29.95,536.21 31.8,534.85" fill="#ff4c4c"/>
<path d="M576.88,3.06 A6146.77,6146.77 0 0 1 570.98,8.64 L580.17,18.38 A6160.17,6160.17 0 0 0 586.09,12.79 Z" fill="#bebebe"/><path d="M576.88,3.06 A6146.77,6146.77 0 0 1 570.98,8.64 L572.81,10.59 A6149.45,6149.45 0 0 0 578.72,5.01 Z" fill="#858585"/><path d="M584.24,10.85 A6157.49,6157.49 0 0 1 578.33,16.43 L580.17,18.38 A6160.17,6160.17 0 0 0 586.09,12.79 Z" fill="#d2d2d2"/>
<path d="M559.46,19.47 A6146.77,6146.77 0 0 1 519.11,57.01 L528.19,66.87 A6160.17,6160.17 0 0 0 568.63,29.24 Z" fill="#ff1493"/><path d="M559.46,19.47 A6146.77,6146.77 0 0 1 519.11,57.01 L520.92,58.98 A6149.45,6149.45 0 0 0 561.3,21.42 Z" fill="#b20e67"/><path d="M566.8,27.29 A6157.49,6157.49 0 0 1 526.37,64.9 L528.19,66.87 A6160.17,6160.17 0 0 0 568.63,29.24 Z" fill="#ff5ab3"/>
<path d="M519.11,57.01 A6146.77,6146.77 0 0 1 509.15,66.17 L518.21,76.05 A6160.17,6160.17 0 0 0 528.19,66.87 Z" fill="#ff8c00"/><path d="M519.11,57.01 A6146.77,6146.77 0 0 1 509.15,66.17 L510.96,68.15 A6149.45,6149.45 0 0 0 520.92,58.98 Z" fill="#b26200"/><path d="M526.37,64.9 A6157.49,6157.49 0 0 1 516.4,74.07 L518.21,76.05 A6160.17,6160.17 0 0 0 528.19,66.87 Z" fill="#ffae4c"/>
<path d="M489.38,84.24 A6146.77,6146.77 0 0 1 477.36,95.15 L486.35,105.09 A6160.17,6160.17 0 0 0 498.4,94.15 Z" fill="#00ffff"/><path d="M489.38,84.24 A6146.77,6146.77 0 0 1 477.36,95.15 L479.16,97.14 A6149.45,6149.45 0 0 0 491.19,86.22 Z" fill="#00b2b2"/><path d="M496.6,92.17 A6157.49,6157.49 0 0 1 484.55,103.1 L486.35,105.09 A6160.17,6160.17 0 0 0 498.4,94.15 Z" fill="#4cffff"/>
<path d="M477.36,95.15 A6146.77,6146.77 0 0 1 468.38,103.27 L477.35,113.22 A6160.17,6160.17 0 0 0 486.35,105.09 Z" fill="#0000ff"/><path d="M477.36,95.15 A6146.77,6146.77 0 0 1 468.38,103.27 L470.17,105.26 A6149.45,6149.45 0 0 0 479.16,97.14 Z" fill="#0000b2"/><path d="M484.55,103.1 A6157.49,6157.49 0 0 1 475.55,111.23 L477.35,113.22 A6160.17,6160.17 0 0 0 486.35,105.09 Z" fill="#4c4cff"/>
<path d="M281.78,264.81 A6146.77,6146.77 0 0 1 271.92,273 L276.19,278.16 A6153.47,6153.47 0 0 0 286.07,269.96 Z" fill="#6b8e23"/><path d="M281.78,264.81 A6146.77,6146.77 0 0 1 271.92,273 L272.77,274.03 A6148.11,6148.11 0 0 0 282.64,265.84 Z" fill="#4b6318"/><path d="M285.21,268.93 A6152.13,6152.13 0 0 1 275.33,277.13 L276.19,278.16 A6153.47,6153.47 0 0 0 286.07,269.96 Z" fill="#97b065"/>
<path d="M286.07,269.96 A6153.47,6153.47 0 0 1 276.19,278.16 L280.46,283.32 A6160.17,6160.17 0 0 0 290.35,275.12 Z" fill="#00ced1"/><path d="M286.07,269.96 A6153.47,6153.47 0 0 1 276.19,278.16 L277.04,279.19 A6154.81,6154.81 0 0 0 286.92,271 Z" fill="#009092"/><path d="M289.49,274.09 A6158.83,6158.83 0 0 1 279.61,282.29 L280.46,283.32 A6160.17,6160.17 0 0 0 290.35,275.12 Z" fill="#4cdddf"/>
<path d="M142.12,377.5 A6146.77,6146.77 0 0 1 138.31,380.48 L146.56,391.04 A6160.17,6160.17 0 0 0 150.38,388.05 Z" fill="#ff8c00"/><path d="M142.12,377.5 A6146.77,6146.77 0 0 1 138.31,380.48 L139.96,382.59 A6149.45,6149.45 0 0 0 143.77,379.61 Z" fill="#b26200"/><path d="M148.73,385.94 A6157.49,6157.49 0 0 1 144.91,388.93 L146.56,391.04 A6160.17,6160.17 0 0 0 150.38,388.05 Z" fill="#ffae4c"/>
<path d="M136.85,381.62 A6146.77,6146.77 0 0 1 122.69,392.65 L130.91,403.23 A6160.17,6160.17 0 0 0 145.1,392.18 Z" fill="#00ced1"/><path d="M136.85,381.62 A6146.77,6146.77 0 0 1 122.69,392.65 L124.34,394.77 A6149.45,6149.45 0 0 0 138.5,383.73 Z" fill="#009092"/><path d="M143.45,390.07 A6157.49,6157.49 0 0 1 129.27,401.12 L130.91,403.23 A6160.17,6160.17 0 0 0 145.1,392.18 Z" fill="#4cdddf"/>
<path d="M122.69,392.65 A6146.77,6146.77 0 0 1 114.59,398.93 L122.79,409.53 A6160.17,6160.17 0 0 0 130.91,403.23 Z" fill="#ff1493"/><path d="M122.69,392.65 A6146.77,6146.77 0 0 1 114.59,398.93 L116.23,401.05 A6149.45,6149.45 0 0 0 124.34,394.77 Z" fill="#b20e67"/><path d="M129.27,401.12 A6157.49,6157.49 0 0 1 121.15,407.41 L122.79,409.53 A6160.17,6160.17 0 0 0 130.91,403.23 Z" fill="#ff5ab3"/>
<path d="M99.7,410.42 A6146.77,6146.77 0 0 1 86.14,420.82 L94.28,431.46 A6160.17,6160.17 0 0 0 107.87,421.04 Z" fill="#bebebe"/><path d="M99.7,410.42 A6146.77,6146.77 0 0 1 86.14,420.82 L87.77,422.94 A6149.45,6149.45 0 0 0 101.34,412.54 Z" fill="#858585"/><path d="M106.24,418.91 A6157.49,6157.49 0 0 1 92.65,429.33 L94.28,431.46 A6160.17,6160.17 0 0 0 107.87,421.04 Z" fill="#d2d2d2"/>
<path d="M550.83,113.71 A6209.97,6209.97 0 0 1 544.99,119.05 L554.04,128.94 A6223.37,6223.37 0 0 0 559.89,123.58 Z" fill="#bebebe"/><path d="M550.83,113.71 A6209.97,6209.97 0 0 1 544.99,119.05 L546.8,121.03 A6212.65,6212.65 0 0 0 552.64,115.68 Z" fill="#858585"/><path d="M558.07,121.61 A6220.69,6220.69 0 0 1 552.23,126.96 L554.04,128.94 A6223.37,6223.37 0 0 0 559.89,123.58 Z" fill="#d2d2d2"/>
<path d="M503.96,156.27 A6209.97,6209.97 0 0 1 498.39,161.27 L507.34,171.25 A6223.37,6223.37 0 0 0 512.92,166.24 Z" fill="#483d8b"/><path d="M503.96,156.27 A6209.97,6209.97 0 0 1 498.39,161.27 L500.18,163.26 A6212.65,6212.65 0 0 0 505.75,158.26 Z" fill="#322b61"/><path d="M511.12,164.24 A6220.69,6220.69 0 0 1 505.55,169.25 L507.34,171.25 A6223.37,6223.37 0 0 0 512.92,166.24 Z" fill="#7f77ae"/>
<path d="M495.71,163.67 A6209.97,6209.97 0 0 1 491.85,167.12 L500.78,177.11 A6223.37,6223.37 0 0 0 504.65,173.65 Z" fill="#483d8b"/><path d="M495.71,163.67 A6209.97,6209.97 0 0 1 491.85,167.12 L493.64,169.12 A6212.65,6212.65 0 0 0 497.5,165.67 Z" fill="#322b61"/><path d="M502.86,171.66 A6220.69,6220.69 0 0 1 499,175.12 L500.78,177.11 A6223.37,6223.37 0 0 0 504.65,173.65 Z" fill="#7f77ae"/>
<path d="M471.75,185.02 A6209.97,6209.97 0 0 1 454.28,200.45 L463.13,210.51 A6223.37,6223.37 0 0 0 480.64,195.04 Z" fill="#f08080"/><path d="M471.75,185.02 A6209.97,6209.97 0 0 1 454.28,200.45 L456.05,202.46 A6212.65,6212.65 0 0 0 473.53,187.02 Z" fill="#a85a5a"/><path d="M478.86,193.04 A6220.69,6220.69 0 0 1 461.36,208.49 L463.13,210.51 A6223.37,6223.37 0 0 0 480.64,195.04 Z" fill="#f4a6a6"/>
<path d="M454.28,200.45 A6209.97,6209.97 0 0 1 438.27,214.48 L447.08,224.58 A6223.37,6223.37 0 0 0 463.13,210.51 Z" fill="#4682b4"/><path d="M454.28,200.45 A6209.97,6209.97 0 0 1 438.27,214.48 L440.03,216.5 A6212.65,6212.65 0 0 0 456.05,202.46 Z" fill="#315b7e"/><path d="M461.36,208.49 A6220.69,6220.69 0 0 1 445.32,222.56 L447.08,224.58 A6223.37,6223.37 0 0 0 463.13,210.51 Z" fill="#7ea8ca"/>
<path d="M438.27,214.48 A6209.97,6209.97 0 0 1 423.94,226.96 L432.73,237.08 A6223.37,6223.37 0 0 0 447.08,224.58 Z" fill="#4682b4"/><path d="M438.27,214.48 A6209.97,6209.97 0 0 1 423.94,226.96 L425.7,228.98 A6212.65,6212.65 0 0 0 440.03,216.5 Z" fill="#315b7e"/><path d="M445.32,222.56 A6220.69,6220.69 0 0 1 430.97,235.05 L432.73,237.08 A6223.37,6223.37 0 0 0 447.08,224.58 Z" fill="#7ea8ca"/>
<path d="M423.94,226.96 A6209.97,6209.97 0 0 1 412.2,237.13 L420.96,247.27 A6223.37,6223.37 0 0 0 432.73,237.08 Z" fill="#4682b4"/><path d="M423.94,226.96 A6209.97,6209.97 0 0 1 412.2,237.13 L413.95,239.16 A6212.65,6212.65 0 0 0 425.7,228.98 Z" fill="#315b7e"/><path d="M430.97,235.05 A6220.69,6220.69 0 0 1 419.2,245.25 L420.96,247.27 A6223.37,6223.37 0 0 0 432.73,237.08 Z" fill="#7ea8ca"/>
<path d="M412.2,237.13 A6209.97,6209.97 0 0 1 401.3,246.53 L410.03,256.69 A6223.37,6223.37 0 0 0 420.96,247.27 Z" fill="#4682b4"/><path d="M412.2,237.13 A6209.97,6209.97 0 0 1 401.3,246.53 L403.04,248.56 A6212.65,6212.65 0 0 0 413.95,239.16 Z" fill="#315b7e"/><path d="M419.2,245.25 A6220.69,6220.69 0 0 1 408.29,254.66 L410.03,256.69 A6223.37,6223.37 0 0 0 420.96,247.27 Z" fill="#7ea8ca"/>
<path d="M398.35,249.06 A6209.97,6209.97 0 0 1 374.39,269.53 L383.07,279.74 A6223.37,6223.37 0 0 0 407.08,259.22 Z" fill="#ff8c00"/><path d="M398.35,249.06 A6209.97,6209.97 0 0 1 374.39,269.53 L376.13,271.57 A6212.65,6212.65 0 0 0 400.1,251.09 Z" fill="#b26200"/><path d="M405.33,257.19 A6220.69,6220.69 0 0 1 381.33,277.7 L383.07,279.74 A6223.37,6223.37 0 0 0 407.08,259.22 Z" fill="#ffae4c"/>
<path d="M372.86,270.83 A6209.97,6209.97 0 0 1 361,280.88 L369.65,291.11 A6223.37,6223.37 0 0 0 381.53,281.05 Z" fill="#f08080"/><path d="M372.86,270.83 A6209.97,6209.97 0 0 1 361,280.88 L362.73,282.93 A6212.65,6212.65 0 0 0 374.59,272.88 Z" fill="#a85a5a"/><path d="M379.8,279 A6220.69,6220.69 0 0 1 367.92,289.07 L369.65,291.11 A6223.37,6223.37 0 0 0 381.53,281.05 Z" fill="#f4a6a6"/>
<path d="M361,280.88 A6209.97,6209.97 0 0 1 351.32,289.04 L359.95,299.29 A6223.37,6223.37 0 0 0 369.65,291.11 Z" fill="#f08080"/><path d="M361,280.88 A6209.97,6209.97 0 0 1 351.32,289.04 L353.05,291.09 A6212.65,6212.65 0 0 0 362.73,282.93 Z" fill="#a85a5a"/><path d="M367.92,289.07 A6220.69,6220.69 0 0 1 358.22,297.24 L359.95,299.29 A6223.37,6223.37 0 0 0 369.65,291.11 Z" fill="#f4a6a6"/>
<path d="M351.32,289.04 A6209.97,6209.97 0 0 1 342.29,296.63 L350.9,306.9 A6223.37,6223.37 0 0 0 359.95,299.29 Z" fill="#f08080"/><path d="M351.32,289.04 A6209.97,6209.97 0 0 1 342.29,296.63 L344.01,298.68 A6212.65,6212.65 0 0 0 353.05,291.09 Z" fill="#a85a5a"/><path d="M358.22,297.24 A6220.69,6220.69 0 0 1 349.17,304.85 L350.9,306.9 A6223.37,6223.37 0 0 0 359.95,299.29 Z" fill="#f4a6a6"/>
<path d="M342.29,296.63 A6209.97,6209.97 0 0 1 322.85,312.86 L331.41,323.17 A6223.37,6223.37 0 0 0 350.9,306.9 Z" fill="#6b8e23"/><path d="M342.29,296.63 A6209.97,6209.97 0 0 1 322.85,312.86 L324.56,314.92 A6212.65,6212.65 0 0 0 344.01,298.68 Z" fill="#4b6318"/><path d="M349.17,304.85 A6220.69,6220.69 0 0 1 329.7,321.1 L331.41,323.17 A6223.37,6223.37 0 0 0 350.9,306.9 Z" fill="#97b065"/>
<path d="M310.44,323.15 A6209.97,6209.97 0 0 1 290.56,339.52 L294.81,344.7 A6216.67,6216.67 0 0 0 314.71,328.31 Z" fill="#6b8e23"/><path d="M310.44,323.15 A6209.97,6209.97 0 0 1 290.56,339.52 L291.41,340.56 A6211.31,6211.31 0 0 0 311.29,324.18 Z" fill="#4b6318"/><path d="M313.86,327.28 A6215.33,6215.33 0 0 1 293.96,343.67 L294.81,344.7 A6216.67,6216.67 0 0 0 314.71,328.31 Z" fill="#97b065"/>
<path d="M314.71,328.31 A6216.67,6216.67 0 0 1 294.81,344.7 L299.06,349.89 A6223.37,6223.37 0 0 0 318.98,333.48 Z" fill="#00ced1"/><path d="M314.71,328.31 A6216.67,6216.67 0 0 1 294.81,344.7 L295.66,345.74 A6218.01,6218.01 0 0 0 315.57,329.34 Z" fill="#009092"/><path d="M318.13,332.44 A6222.03,6222.03 0 0 1 298.21,348.85 L299.06,349.89 A6223.37,6223.37 0 0 0 318.98,333.48 Z" fill="#4cdddf"/>
<path d="M290.56,339.52 A6209.97,6209.97 0 0 1 279.42,348.64 L287.9,359.02 A6223.37,6223.37 0 0 0 299.06,349.89 Z" fill="#6b8e23"/><path d="M290.56,339.52 A6209.97,6209.97 0 0 1 279.42,348.64 L281.12,350.71 A6212.65,6212.65 0 0 0 292.26,341.6 Z" fill="#4b6318"/><path d="M297.36,347.81 A6220.69,6220.69 0 0 1 286.2,356.94 L287.9,359.02 A6223.37,6223.37 0 0 0 299.06,349.89 Z" fill="#97b065"/>
<path d="M267.71,358.18 A6209.97,6209.97 0 0 1 258.32,365.79 L266.75,376.2 A6223.37,6223.37 0 0 0 276.16,368.58 Z" fill="#00ffff"/><path d="M267.71,358.18 A6209.97,6209.97 0 0 1 258.32,365.79 L260,367.87 A6212.65,6212.65 0 0 0 269.4,360.26 Z" fill="#00b2b2"/><path d="M274.47,366.5 A6220.69,6220.69 0 0 1 265.06,374.12 L266.75,376.2 A6223.37,6223.37 0 0 0 276.16,368.58 Z" fill="#4cffff"/>
<path d="M258.32,365.79 A6209.97,6209.97 0 0 1 256.08,367.6 L264.5,378.02 A6223.37,6223.37 0 0 0 266.75,376.2 Z" fill="#00ffff"/><path d="M258.32,365.79 A6209.97,6209.97 0 0 1 256.08,367.6 L257.76,369.68 A6212.65,6212.65 0 0 0 260,367.87 Z" fill="#00b2b2"/><path d="M265.06,374.12 A6220.69,6220.69 0 0 1 262.82,375.93 L264.5,378.02 A6223.37,6223.37 0 0 0 266.75,376.2 Z" fill="#4cffff"/>
<path d="M256.08,367.6 A6209.97,6209.97 0 0 1 248.91,373.38 L257.32,383.81 A6223.37,6223.37 0 0 0 264.5,378.02 Z" fill="#00ffff"/><path d="M256.08,367.6 A6209.97,6209.97 0 0 1 248.91,373.38 L250.59,375.47 A6212.65,6212.65 0 0 0 257.76,369.68 Z" fill="#00b2b2"/><path d="M262.82,375.93 A6220.69,6220.69 0 0 1 255.64,381.73 L257.32,383.81 A6223.37,6223.37 0 0 0 264.5,378.02 Z" fill="#4cffff"/>
<path d="M248.91,373.38 A6209.97,6209.97 0 0 1 239.05,381.31 L247.43,391.77 A6223.37,6223.37 0 0 0 257.32,383.81 Z" fill="#00ffff"/><path d="M248.91,373.38 A6209.97,6209.97 0 0 1 239.05,381.31 L240.72,383.4 A6212.65,6212.65 0 0 0 250.59,375.47 Z" fill="#00b2b2"/><path d="M255.64,381.73 A6220.69,6220.69 0 0 1 245.75,389.68 L247.43,391.77 A6223.37,6223.37 0 0 0 257.32,383.81 Z" fill="#4cffff"/>
<path d="M239.05,381.31 A6209.97,6209.97 0 0 1 219.71,396.76 L228.06,407.25 A6223.37,6223.37 0 0 0 247.43,391.77 Z" fill="#00ffff"/><path d="M239.05,381.31 A6209.97,6209.97 0 0 1 219.71,396.76 L221.38,398.86 A6212.65,6212.65 0 0 0 240.72,383.4 Z" fill="#00b2b2"/><path d="M245.75,389.68 A6220.69,6220.69 0 0 1 226.39,405.15 L228.06,407.25 A6223.37,6223.37 0 0 0 247.43,391.77 Z" fill="#4cffff"/>
<path d="M219.71,396.76 A6209.97,6209.97 0 0 1 207.99,406.07 L216.31,416.57 A6223.37,6223.37 0 0 0 228.06,407.25 Z" fill="#00ffff"/><path d="M219.71,396.76 A6209.97,6209.97 0 0 1 207.99,406.07 L209.66,408.17 A6212.65,6212.65 0 0 0 221.38,398.86 Z" fill="#00b2b2"/><path d="M226.39,405.15 A6220.69,6220.69 0 0 1 214.65,414.47 L216.31,416.57 A6223.37,6223.37 0 0 0 228.06,407.25 Z" fill="#4cffff"/>
<path d="M207.99,406.07 A6209.97,6209.97 0 0 1 192.41,418.37 L200.69,428.9 A6223.37,6223.37 0 0 0 216.31,416.57 Z" fill="#00ffff"/><path d="M207.99,406.07 A6209.97,6209.97 0 0 1 192.41,418.37 L194.06,420.48 A6212.65,6212.65 0 0 0 209.66,408.17 Z" fill="#00b2b2"/><path d="M214.65,414.47 A6220.69,6220.69 0 0 1 199.03,426.8 L200.69,428.9 A6223.37,6223.37 0 0 0 216.31,416.57 Z" fill="#4cffff"/>
<path d="M192.41,418.37 A6209.97,6209.97 0 0 1 188.22,421.66 L196.5,432.2 A6223.37,6223.37 0 0 0 200.69,428.9 Z" fill="#00ffff"/><path d="M192.41,418.37 A6209.97,6209.97 0 0 1 188.22,421.66 L189.87,423.77 A6212.65,6212.65 0 0 0 194.06,420.48 Z" fill="#00b2b2"/><path d="M199.03,426.8 A6220.69,6220.69 0 0 1 194.84,430.09 L196.5,432.2 A6223.37,6223.37 0 0 0 200.69,428.9 Z" fill="#4cffff"/>
<path d="M150.99,450.67 A6209.97,6209.97 0 0 1 138.8,460.08 L146.97,470.7 A6223.37,6223.37 0 0 0 159.19,461.27 Z" fill="#bebebe"/><path d="M150.99,450.67 A6209.97,6209.97 0 0 1 138.8,460.08 L140.43,462.2 A6212.65,6212.65 0 0 0 152.63,452.79 Z" fill="#858585"/><path d="M157.55,459.15 A6220.69,6220.69 0 0 1 145.34,468.57 L146.97,470.7 A6223.37,6223.37 0 0 0 159.19,461.27 Z" fill="#d2d2d2"/>
<path d="M101.28,488.71 A6209.97,6209.97 0 0 1 90.26,497.04 L98.32,507.74 A6223.37,6223.37 0 0 0 109.37,499.39 Z" fill="#bdb76b"/><path d="M101.28,488.71 A6209.97,6209.97 0 0 1 90.26,497.04 L91.87,499.18 A6212.65,6212.65 0 0 0 102.9,490.85 Z" fill="#84804b"/><path d="M107.75,497.26 A6220.69,6220.69 0 0 1 96.71,505.6 L98.32,507.74 A6223.37,6223.37 0 0 0 109.37,499.39 Z" fill="#d1cd97"/>
<path d="M90.26,497.04 A6209.97,6209.97 0 0 1 77.38,506.72 L85.41,517.44 A6223.37,6223.37 0 0 0 98.32,507.74 Z" fill="#00ffff"/><path d="M90.26,497.04 A6209.97,6209.97 0 0 1 77.38,506.72 L78.98,508.86 A6212.65,6212.65 0 0 0 91.87,499.18 Z" fill="#00b2b2"/><path d="M96.71,505.6 A6220.69,6220.69 0 0 1 83.81,515.3 L85.41,517.44 A6223.37,6223.37 0 0 0 98.32,507.74 Z" fill="#4cffff"/>
<path d="M77.38,506.72 A6209.97,6209.97 0 0 1 68.04,513.7 L76.06,524.44 A6223.37,6223.37 0 0 0 85.41,517.44 Z" fill="#00fa9a"/><path d="M77.38,506.72 A6209.97,6209.97 0 0 1 68.04,513.7 L69.65,515.85 A6212.65,6212.65 0 0 0 78.98,508.86 Z" fill="#00af6c"/><path d="M83.81,515.3 A6220.69,6220.69 0 0 1 74.46,522.29 L76.06,524.44 A6223.37,6223.37 0 0 0 85.41,517.44 Z" fill="#4cfcb8"/>
<path d="M48.76,528.04 A6209.97,6209.97 0 0 1 39.51,534.88 L47.46,545.67 A6223.37,6223.37 0 0 0 56.74,538.81 Z" fill="#00ced1"/><path d="M48.76,528.04 A6209.97,6209.97 0 0 1 39.51,534.88 L41.1,537.04 A6212.65,6212.65 0 0 0 50.36,530.19 Z" fill="#009092"/><path d="M55.14,536.65 A6220.69,6220.69 0 0 1 45.87,543.51 L47.46,545.67 A6223.37,6223.37 0 0 0 56.74,538.81 Z" fill="#4cdddf"/>
<path d="M34.41,538.64 A6209.97,6209.97 0 0 1 13.99,553.61 L17.94,559.02 A6216.67,6216.67 0 0 0 38.38,544.04 Z" fill="#ff8c00"/><path d="M34.41,538.64 A6209.97,6209.97 0 0 1 13.99,553.61 L14.78,554.7 A6211.31,6211.31 0 0 0 35.2,539.72 Z" fill="#b26200"/><path d="M37.59,542.96 A6215.33,6215.33 0 0 1 17.15,557.94 L17.94,559.02 A6216.67,6216.67 0 0 0 38.38,544.04 Z" fill="#ffae4c"/>
<path d="M38.38,544.04 A6216.67,6216.67 0 0 1 17.94,559.02 L21.89,564.44 A6223.37,6223.37 0 0 0 42.35,549.43 Z" fill="#ff1493"/><path d="M38.38,544.04 A6216.67,6216.67 0 0 1 17.94,559.02 L18.73,560.11 A6218.01,6218.01 0 0 0 39.18,545.11 Z" fill="#b20e67"/><path d="M41.56,548.35 A6222.03,6222.03 0 0 1 21.1,563.35 L21.89,564.44 A6223.37,6223.37 0 0 0 42.35,549.43 Z" fill="#ff5ab3"/>
<g stroke="#fff"><line x1="519.11" y1="57.01" x2="528.19" y2="66.87" stroke-opacity="0.4" stroke-width="0.7"/><line x1="477.36" y1="95.15" x2="486.35" y2="105.09" stroke-opacity="0.4" stroke-width="0.7"/><line x1="454.28" y1="200.45" x2="463.13" y2="210.51" stroke-opacity="0.4" stroke-width="0.7"/><line x1="438.27" y1="214.48" x2="447.08" y2="224.58" stroke-opacity="0.95" stroke-width="1"/><line x1="423.94" y1="226.96" x2="432.73" y2="237.08" stroke-opacity="0.4" stroke-width="0.7"/><line x1="412.2" y1="237.13" x2="420.96" y2="247.27" stroke-opacity="0.4" stroke-width="0.7"/><line x1="361" y1="280.88" x2="369.65" y2="291.11" stroke-opacity="0.4" stroke-width="0.7"/><line x1="351.32" y1="289.04" x2="359.95" y2="299.29" stroke-opacity="0.4" stroke-width="0.7"/><line x1="342.29" y1="296.63" x2="350.9" y2="306.9" stroke-opacity="0.4" stroke-width="0.7"/><line x1="290.56" y1="339.52" x2="299.06" y2="349.89" stroke-opacity="0.4" stroke-width="0.7"/><line x1="258.32" y1="365.79" x2="266.75" y2="376.2" stroke-opacity="0.95" stroke-width="1"/><line x1="256.08" y1="367.6" x2="264.5" y2="378.02" stroke-opacity="0.95" stroke-width="1"/><line x1="248.91" y1="373.38" x2="257.32" y2="383.81" stroke-opacity="0.4" stroke-width="0.7"/><line x1="239.05" y1="381.31" x2="247.43" y2="391.77" stroke-opacity="0.95" stroke-width="1"/><line x1="219.71" y1="396.76" x2="228.06" y2="407.25" stroke-opacity="0.95" stroke-width="1"/><line x1="207.99" y1="406.07" x2="216.31" y2="416.57" stroke-opacity="0.95" stroke-width="1"/><line x1="192.41" y1="418.37" x2="200.69" y2="428.9" stroke-opacity="0.4" stroke-width="0.7"/><line x1="122.69" y1="392.65" x2="130.91" y2="403.23" stroke-opacity="0.4" stroke-width="0.7"/><line x1="90.26" y1="497.04" x2="98.32" y2="507.74" stroke-opacity="0.4" stroke-width="0.7"/><line x1="77.38" y1="506.72" x2="85.41" y2="517.44" stroke-opacity="0.4" stroke-width="0.7"/></g>
<g stroke="#008000" stroke-width="2" stroke-linecap="round"><line x1="642.12" y1="-66.71" x2="638.28" y2="-70.64"/><line x1="702.75" y1="-4.58" x2="706.59" y2="-0.65"/><line x1="631.93" y1="-56.78" x2="630.95" y2="-57.78"/><line x1="692.41" y1="5.48" x2="693.38" y2="6.49"/><line x1="621.71" y1="-46.87" x2="620.73" y2="-47.88"/><line x1="682.04" y1="15.53" x2="683.02" y2="16.53"/><line x1="611.47" y1="-36.99" x2="610.49" y2="-38"/><line x1="671.66" y1="25.55" x2="672.63" y2="26.56"/><line x1="601.2" y1="-27.14" x2="600.23" y2="-28.15"/><line x1="661.25" y1="35.54" x2="662.22" y2="36.55"/><line x1="590.91" y1="-17.3" x2="587.12" y2="-21.29"/><line x1="650.81" y1="45.51" x2="654.61" y2="49.49"/><line x1="580.6" y1="-7.5" x2="579.64" y2="-8.51"/><line x1="640.36" y1="55.46" x2="641.32" y2="56.48"/><line x1="570.27" y1="2.29" x2="569.31" y2="1.27"/><line x1="629.88" y1="65.38" x2="630.84" y2="66.4"/><line x1="559.91" y1="12.05" x2="558.95" y2="11.03"/><line x1="619.38" y1="75.28" x2="620.33" y2="76.3"/><line x1="549.54" y1="21.79" x2="548.58" y2="20.76"/><line x1="608.85" y1="85.16" x2="609.81" y2="86.18"/><line x1="539.13" y1="31.5" x2="535.38" y2="27.48"/><line x1="598.3" y1="95.01" x2="602.05" y2="99.03"/><line x1="528.71" y1="41.19" x2="527.76" y2="40.16"/><line x1="587.73" y1="104.83" x2="588.68" y2="105.86"/><line x1="518.26" y1="50.85" x2="517.32" y2="49.82"/><line x1="577.14" y1="114.63" x2="578.09" y2="115.66"/><line x1="507.8" y1="60.49" x2="506.85" y2="59.46"/><line x1="566.52" y1="124.41" x2="567.47" y2="125.44"/><line x1="497.31" y1="70.11" x2="496.36" y2="69.08"/><line x1="555.88" y1="134.16" x2="556.83" y2="135.2"/><line x1="486.79" y1="79.7" x2="483.09" y2="75.63"/><line x1="545.22" y1="143.89" x2="548.92" y2="147.96"/><line x1="476.26" y1="89.27" x2="475.32" y2="88.23"/><line x1="534.54" y1="153.59" x2="535.48" y2="154.63"/><line x1="465.7" y1="98.81" x2="464.76" y2="97.77"/><line x1="523.83" y1="163.27" x2="524.77" y2="164.31"/><line x1="455.12" y1="108.33" x2="454.19" y2="107.29"/><line x1="513.1" y1="172.92" x2="514.04" y2="173.96"/><line x1="444.52" y1="117.82" x2="443.59" y2="116.78"/><line x1="502.35" y1="182.55" x2="503.29" y2="183.59"/><line x1="433.9" y1="127.29" x2="430.24" y2="123.18"/><line x1="491.58" y1="192.15" x2="495.23" y2="196.26"/><line x1="423.25" y1="136.74" x2="422.32" y2="135.69"/><line x1="480.78" y1="201.73" x2="481.71" y2="202.78"/><line x1="412.59" y1="146.16" x2="411.66" y2="145.11"/><line x1="469.97" y1="211.28" x2="470.89" y2="212.34"/><line x1="401.9" y1="155.55" x2="400.97" y2="154.5"/><line x1="459.13" y1="220.81" x2="460.05" y2="221.87"/><line x1="391.19" y1="164.92" x2="390.27" y2="163.87"/><line x1="448.26" y1="230.32" x2="449.18" y2="231.37"/><line x1="380.45" y1="174.27" x2="376.85" y2="170.11"/><line x1="437.38" y1="239.79" x2="440.99" y2="243.94"/><line x1="369.7" y1="183.59" x2="368.78" y2="182.53"/><line x1="426.47" y1="249.24" x2="427.39" y2="250.3"/><line x1="358.93" y1="192.88" x2="358.01" y2="191.82"/><line x1="415.55" y1="258.67" x2="416.46" y2="259.73"/><line x1="348.13" y1="202.15" x2="347.22" y2="201.09"/><line x1="404.6" y1="268.07" x2="405.51" y2="269.14"/><line x1="337.31" y1="211.4" x2="336.4" y2="210.33"/><line x1="393.63" y1="277.45" x2="394.53" y2="278.52"/><line x1="326.47" y1="220.62" x2="322.91" y2="216.43"/><line x1="382.63" y1="286.8" x2="386.19" y2="290.99"/><line x1="315.61" y1="229.81" x2="314.71" y2="228.75"/><line x1="371.62" y1="296.13" x2="372.52" y2="297.2"/><line x1="304.73" y1="238.99" x2="303.83" y2="237.91"/><line x1="360.58" y1="305.43" x2="361.48" y2="306.5"/><line x1="293.82" y1="248.13" x2="292.92" y2="247.06"/><line x1="349.52" y1="314.7" x2="350.42" y2="315.77"/><line x1="282.9" y1="257.25" x2="282" y2="256.17"/><line x1="338.45" y1="323.95" x2="339.34" y2="325.02"/><line x1="271.95" y1="266.34" x2="268.44" y2="262.11"/><line x1="327.35" y1="333.17" x2="330.86" y2="337.41"/><line x1="260.99" y1="275.41" x2="260.09" y2="274.33"/><line x1="316.22" y1="342.37" x2="317.11" y2="343.45"/><line x1="250" y1="284.46" x2="249.11" y2="283.37"/><line x1="305.08" y1="351.54" x2="305.97" y2="352.62"/><line x1="238.99" y1="293.47" x2="238.1" y2="292.39"/><line x1="293.92" y1="360.69" x2="294.8" y2="361.77"/><line x1="227.96" y1="302.47" x2="227.08" y2="301.38"/><line x1="282.73" y1="369.8" x2="283.61" y2="370.89"/><line x1="216.91" y1="311.43" x2="213.45" y2="307.16"/><line x1="271.52" y1="378.9" x2="274.98" y2="383.17"/><line x1="205.84" y1="320.37" x2="204.96" y2="319.28"/><line x1="260.3" y1="387.97" x2="261.17" y2="389.06"/><line x1="194.75" y1="329.29" x2="193.87" y2="328.2"/><line x1="249.05" y1="397.01" x2="249.92" y2="398.1"/><line x1="183.63" y1="338.18" x2="182.76" y2="337.09"/><line x1="237.78" y1="406.02" x2="238.65" y2="407.12"/><line x1="172.5" y1="347.04" x2="171.63" y2="345.95"/><line x1="226.49" y1="415.01" x2="227.36" y2="416.11"/><line x1="161.35" y1="355.88" x2="157.94" y2="351.57"/><line x1="215.18" y1="423.98" x2="218.59" y2="428.29"/><line x1="150.17" y1="364.69" x2="149.31" y2="363.59"/><line x1="203.84" y1="432.91" x2="204.71" y2="434.01"/><line x1="138.98" y1="373.48" x2="138.12" y2="372.38"/><line x1="192.49" y1="441.82" x2="193.35" y2="442.93"/><line x1="127.76" y1="382.24" x2="126.9" y2="381.14"/><line x1="181.12" y1="450.71" x2="181.98" y2="451.81"/><line x1="116.53" y1="390.98" x2="115.67" y2="389.87"/><line x1="169.72" y1="459.57" x2="170.58" y2="460.67"/><line x1="105.27" y1="399.68" x2="101.91" y2="395.33"/><line x1="158.31" y1="468.4" x2="161.67" y2="472.75"/><line x1="94" y1="408.37" x2="93.15" y2="407.26"/><line x1="146.88" y1="477.2" x2="147.73" y2="478.31"/><line x1="82.7" y1="417.02" x2="81.85" y2="415.91"/><line x1="135.42" y1="485.98" x2="136.27" y2="487.09"/><line x1="71.39" y1="425.65" x2="70.54" y2="424.54"/><line x1="123.94" y1="494.73" x2="124.79" y2="495.85"/><line x1="60.05" y1="434.26" x2="59.21" y2="433.14"/><line x1="112.45" y1="503.46" x2="113.29" y2="504.57"/><line x1="48.7" y1="442.83" x2="45.39" y2="438.44"/><line x1="100.93" y1="512.16" x2="104.24" y2="516.55"/><line x1="37.32" y1="451.39" x2="36.48" y2="450.27"/><line x1="89.4" y1="520.83" x2="90.24" y2="521.95"/><line x1="25.93" y1="459.91" x2="25.09" y2="458.79"/><line x1="77.84" y1="529.47" x2="78.68" y2="530.6"/><line x1="14.51" y1="468.41" x2="13.68" y2="467.28"/><line x1="66.27" y1="538.09" x2="67.1" y2="539.22"/><line x1="3.08" y1="476.88" x2="2.24" y2="475.75"/><line x1="54.67" y1="546.68" x2="55.5" y2="547.81"/><line x1="-8.38" y1="485.33" x2="-11.64" y2="480.9"/><line x1="43.05" y1="555.25" x2="46.31" y2="559.68"/><line x1="-19.85" y1="493.74" x2="-20.68" y2="492.62"/><line x1="31.42" y1="563.79" x2="32.24" y2="564.92"/><line x1="-31.34" y1="502.14" x2="-32.17" y2="501.01"/><line x1="19.76" y1="572.3" x2="20.59" y2="573.43"/><line x1="-42.86" y1="510.5" x2="-43.68" y2="509.37"/><line x1="8.09" y1="580.78" x2="8.91" y2="581.91"/><line x1="-54.39" y1="518.84" x2="-55.21" y2="517.71"/><line x1="-3.61" y1="589.24" x2="-2.79" y2="590.37"/><line x1="-65.94" y1="527.15" x2="-69.15" y2="522.69"/><line x1="-15.32" y1="597.67" x2="-12.11" y2="602.13"/><line x1="-77.51" y1="535.44" x2="-78.32" y2="534.3"/><line x1="-27.06" y1="606.07" x2="-26.24" y2="607.21"/></g>
<g font-family="DejaVu Sans Condensed, DejaVu Sans, sans-serif" font-size="7.9" fill="#111"><text x="505.6" y="18.34" textLength="37" lengthAdjust="spacing">1205 kbp</text><text x="453.54" y="66.45" textLength="37" lengthAdjust="spacing">1210 kbp</text><text x="400.92" y="113.97" textLength="37" lengthAdjust="spacing">1215 kbp</text><text x="347.76" y="160.87" textLength="37" lengthAdjust="spacing">1220 kbp</text><text x="294.06" y="207.15" textLength="37" lengthAdjust="spacing">1225 kbp</text><text x="239.82" y="252.82" textLength="37" lengthAdjust="spacing">1230 kbp</text><text x="185.06" y="297.85" textLength="37" lengthAdjust="spacing">1235 kbp</text><text x="129.78" y="342.25" textLength="37" lengthAdjust="spacing">1240 kbp</text><text x="73.99" y="386.01" textLength="37" lengthAdjust="spacing">1245 kbp</text><text x="17.7" y="429.12" textLength="37" lengthAdjust="spacing">1250 kbp</text></g>
<g stroke-width="1.2"><line x1="482.92" y1="214.39" x2="520.7" y2="244.5" stroke="#f00"/><line x1="466.2" y1="229.1" x2="501.6" y2="262" stroke="#f00"/><line x1="450.31" y1="242.99" x2="483.8" y2="277.5" stroke="#f00"/><line x1="425.94" y1="264.1" x2="455.3" y2="302.3" stroke="#f00"/><line x1="405.76" y1="281.43" x2="436.7" y2="317" stroke="#f00"/><line x1="437.54" y1="254.08" x2="507.3" y2="335.6" stroke="#f00"/><line x1="366.16" y1="314.98" x2="392.3" y2="356" stroke="#f00"/><line x1="351.75" y1="327.05" x2="373.1" y2="370.6" stroke="#f00"/><line x1="386.38" y1="297.92" x2="458.4" y2="378.6" stroke="#f00"/><line x1="319.59" y1="353.72" x2="356.6" y2="385.3" stroke="#f00"/><line x1="375.34" y1="307.25" x2="451.2" y2="397.3" stroke="#f00"/><line x1="303.61" y1="366.84" x2="340.6" y2="398.6" stroke="#f00"/><line x1="293.76" y1="374.88" x2="361.4" y2="459" stroke="#f00"/><line x1="288.94" y1="378.81" x2="369.8" y2="478.2" stroke="#f00"/><line x1="282.2" y1="384.28" x2="368.7" y2="491.7" stroke="#f00"/><line x1="275.01" y1="390.1" x2="368.7" y2="504.8" stroke="#f00"/><line x1="270.17" y1="394" x2="375.6" y2="524.6" stroke="#f00"/><line x1="262.63" y1="400.08" x2="373.9" y2="538.6" stroke="#f00"/><line x1="247.74" y1="412.02" x2="364.6" y2="559" stroke="#f00"/><line x1="218.53" y1="435.21" x2="248" y2="473.3" stroke="#f00"/><line x1="207.97" y1="443.53" x2="230.6" y2="486.2" stroke="#f00"/><line x1="203.76" y1="446.84" x2="211.1" y2="501.2" stroke="#f00"/><line x1="163.14" y1="478.44" x2="192.5" y2="516.8" stroke="#f00"/><line x1="129.97" y1="503.84" x2="174.5" y2="530.3" stroke="#f00"/><line x1="113.61" y1="516.25" x2="153.5" y2="545.3" stroke="#f00"/><line x1="472.31" y1="78.14" x2="431.9" y2="53.4" stroke="#00f"/><line x1="462.09" y1="87.38" x2="415.2" y2="68.4" stroke="#00f"/><line x1="454.6" y1="94.14" x2="398.5" y2="84.2" stroke="#00f"/><line x1="266.42" y1="256.77" x2="237.3" y2="221.2" stroke="#00f"/><line x1="130.36" y1="366.39" x2="113.5" y2="322.2" stroke="#00f"/><line x1="119.83" y1="374.6" x2="92.4" y2="337.9" stroke="#00f"/></g>
<defs><filter id="crisp"><feComponentTransfer><feFuncA type="gamma" amplitude="1" exponent="0.75" offset="0"/></feComponentTransfer></filter></defs>
<g font-family="DejaVu Sans Condensed, DejaVu Sans, sans-serif" font-size="10" filter="url(#crisp)"><text x="522.7" y="249.4" fill="#f00" textLength="19.5" lengthAdjust="spacing">argS</text><text x="503.5" y="265.9" fill="#f00" textLength="78.2" lengthAdjust="spacing">RSal33209_1428</text><text x="485.5" y="281.5" fill="#f00" textLength="78.2" lengthAdjust="spacing">RSal33209_1429</text><text x="457.2" y="306.3" fill="#f00" textLength="78.2" lengthAdjust="spacing">RSal33209_1431</text><text x="438.5" y="321" fill="#f00" textLength="78.2" lengthAdjust="spacing">RSal33209_1432</text><text x="509.2" y="339.6" fill="#f00" textLength="78.2" lengthAdjust="spacing">RSal33209_1430</text><text x="394.2" y="360" fill="#f00" textLength="78.2" lengthAdjust="spacing">RSal33209_1435</text><text x="375" y="374.6" fill="#f00" textLength="78.2" lengthAdjust="spacing">RSal33209_1436</text><text x="460.3" y="382.6" fill="#f00" textLength="20" lengthAdjust="spacing">prfA</text><text x="358.5" y="389.3" fill="#f00" textLength="78.2" lengthAdjust="spacing">RSal33209_1438</text><text x="453.1" y="401.3" fill="#f00" textLength="78.2" lengthAdjust="spacing">RSal33209_1434</text><text x="342.5" y="402.6" fill="#f00" textLength="78.2" lengthAdjust="spacing">RSal33209_1439</text><text x="363.3" y="463" fill="#f00" textLength="78.2" lengthAdjust="spacing">RSal33209_1440</text><text x="371.7" y="482.2" fill="#f00" textLength="78.2" lengthAdjust="spacing">RSal33209_1441</text><text x="370.6" y="495.7" fill="#f00" textLength="78.2" lengthAdjust="spacing">RSal33209_1442</text><text x="370.6" y="508.8" fill="#f00" textLength="78.2" lengthAdjust="spacing">RSal33209_1443</text><text x="377.5" y="528.6" fill="#f00" textLength="78.2" lengthAdjust="spacing">RSal33209_1444</text><text x="375.8" y="542.6" fill="#f00" textLength="78.2" lengthAdjust="spacing">RSal33209_1445</text><text x="366.5" y="563" fill="#f00" textLength="78.2" lengthAdjust="spacing">RSal33209_1446</text><text x="249.9" y="477.3" fill="#f00" textLength="78.2" lengthAdjust="spacing">RSal33209_1448</text><text x="232.5" y="490.2" fill="#f00" textLength="78.2" lengthAdjust="spacing">RSal33209_1449</text><text x="213" y="505.2" fill="#f00" textLength="78.2" lengthAdjust="spacing">RSal33209_1450</text><text x="194.4" y="520.8" fill="#f00" textLength="78.2" lengthAdjust="spacing">RSal33209_1454</text><text x="176.4" y="534.3" fill="#f00" textLength="78.2" lengthAdjust="spacing">RSal33209_1456</text><text x="155.4" y="549.3" fill="#f00" textLength="78.2" lengthAdjust="spacing">RSal33209_1457</text><text x="351.75" y="52.05" fill="#00f" textLength="78.2" lengthAdjust="spacing">RSal33209_1420</text><text x="335.5" y="67.05" fill="#00f" textLength="78.2" lengthAdjust="spacing">RSal33209_1421</text><text x="318.75" y="82.8" fill="#00f" textLength="78.2" lengthAdjust="spacing">RSal33209_1422</text><text x="157.6" y="219.8" fill="#00f" textLength="78.2" lengthAdjust="spacing">RSal33209_1437</text><text x="33.8" y="320.8" fill="#00f" textLength="78.2" lengthAdjust="spacing">RSal33209_1451</text><text x="12.8" y="336.5" fill="#00f" textLength="78.2" lengthAdjust="spacing">RSal33209_1452</text></g>
<rect x="83" y="4" width="432" height="27" fill="#fff" fill-opacity="0.8"/>
<text x="88" y="22.8" font-family="DejaVu Sans Condensed, DejaVu Sans, sans-serif" font-style="italic" font-size="13" fill="#000" textLength="422.6" lengthAdjust="spacing">Renibacterium salmoninarum ATCC 33209, complete genome</text>
<rect x="0" y="568" width="600" height="32" fill="#fff" fill-opacity="0.8"/>
<text x="9.25" y="587" font-family="DejaVu Sans Condensed, DejaVu Sans, sans-serif" font-size="12" fill="#000" textLength="133.8" lengthAdjust="spacing">Accession: NC_010168</text>
<text x="261.7" y="587" font-family="DejaVu Sans Condensed, DejaVu Sans, sans-serif" font-size="12" fill="#000" textLength="327.2" lengthAdjust="spacing">Topology: circular; Length: 3,155,250 bp; Genes: 3,558</text>
</svg></body></html>
